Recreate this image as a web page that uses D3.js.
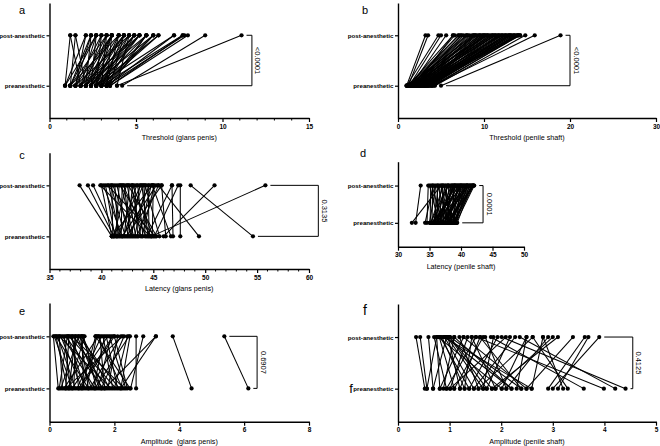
<!DOCTYPE html>
<html>
<head>
<meta charset="utf-8">
<script src="https://cdn.jsdelivr.net/npm/d3@7"></script>
<style>
  body { margin: 0; background: #fff; }
  text { font-family: "Liberation Sans", Arial, sans-serif; fill: #000; }
</style>
</head>
<body>
<svg id="chart" width="660" height="446"></svg>
<script>
'use strict';

const rows = ["post-anesthetic", "preanesthetic"];

// a - threshold, glans penis
const threshGlansPre = [0.9,0.9,0.9,1.2,1.2,1.2,1.2,1.5,1.5,1.5,1.5,1.8,1.8,1.8,1.8,1.8,2.1,2.1,2.1,2.1,2.1,2.1,2.4,2.4,2.4,2.4,2.4,2.4,2.7,2.7,2.7,2.7,2.7,2.7,3.0,3.0,3.0,3.0,3.0,3.0,3.3,3.3,3.3,3.3,3.3,3.5,3.5,3.5,3.5,3.9,3.9,4.2,3.3,2.7,2.1,1.2,1.8,2.1,2.4,2.7,3.0,3.3,1.5,2.4];
const threshGlansPost = [1.2,2.1,2.7,1.5,2.4,3.3,4.0,2.1,3.0,3.6,4.6,1.2,2.7,3.3,4.3,5.2,2.4,3.0,3.6,4.0,4.9,5.6,2.7,3.3,4.3,4.6,5.2,6.0,3.0,3.6,4.0,4.9,5.6,7.2,3.3,4.3,4.6,5.2,6.3,7.7,3.6,4.0,4.9,6.0,7.8,4.3,5.6,7.7,8.0,4.6,11.1,9.0,7.2,6.3,1.5,2.7,3.6,4.3,4.9,5.2,6.0,5.6,2.4,3.6];

// b - threshold, penile shaft
const threshShaftPre = [1.0,1.2,1.0,1.3,1.5,1.2,1.6,1.1,1.4,1.8,1.0,1.7,2.0,1.3,2.2,1.5,1.9,2.4,1.1,2.1,2.6,1.6,2.3,2.8,1.8,2.5,3.0,2.0,2.7,3.2,2.2,2.9,3.4,2.4,3.1,3.6,2.6,3.3,3.8,2.8,3.5,4.0,4.3,4.0,5.0,1.4,1.9,2.1,3.0,3.7,3.9,4.2,1.7,2.5,3.2,1.5,2.0,3.5,1.1,1.3,1.6,2.0,2.3,2.7,3.1,3.4];
const threshShaftPost = [3.2,3.5,4.7,5.0,5.6,6.4,6.6,7.1,7.4,7.6,7.9,8.1,8.3,8.6,8.8,9.0,9.2,9.4,9.6,9.8,10.0,10.2,10.4,10.6,10.8,11.0,11.2,11.4,11.6,11.8,12.0,12.2,12.4,12.6,12.8,13.0,13.2,13.4,13.6,13.8,14.0,14.2,14.8,15.9,18.9,8.0,9.0,7.3,10.1,12.5,13.1,14.0,11.0,12.9,9.5,7.0,6.4,11.7,8.8,10.4,9.9,11.3,12.1,13.5,13.9,14.2];

// c - latency, glans penis
const latGlansPre = [41.0,41.2,41.5,41.0,41.3,41.8,41.1,41.6,42.0,41.4,42.3,41.9,42.6,41.2,42.8,42.2,43.0,42.5,43.3,41.7,43.5,42.9,43.8,42.1,44.0,43.2,44.3,42.7,44.5,43.6,44.8,43.9,44.2,45.0,44.6,43.4,45.3,44.9,45.6,46.2,46.7,46.9,47.6,49.4,54.6,44.8,46.0,45.1,44.4,41.0,42.4,45.2,44.7,43.1,41.5,42.0];
const latGlansPost = [37.9,38.7,39.2,40.0,40.4,40.7,41.0,41.3,40.2,41.7,40.9,42.0,41.5,42.4,42.2,42.7,41.1,43.0,42.5,43.4,43.2,43.7,42.9,44.0,43.5,44.3,42.1,44.6,43.9,44.8,41.8,45.1,44.1,43.0,44.5,45.5,42.6,45.0,44.2,45.8,44.9,46.8,47.6,45.5,48.6,55.8,50.9,47.4,46.8,44.9,45.8,40.6,39.9,41.9,43.8,45.3];

// d - latency, penile shaft
const latShaftPre = [32.2,32.8,34.3,34.6,35.1,35.0,35.2,35.4,35.5,35.7,35.8,35.9,36.0,36.1,36.2,36.3,36.4,36.5,36.6,36.7,36.8,36.9,37.0,37.1,37.2,37.3,37.4,37.5,37.6,37.7,37.8,37.9,38.0,38.1,38.2,38.3,38.4,38.5,38.6,38.7,38.8,38.9,39.0,39.1,39.2,39.3,39.4,35.3,36.0,36.5,37.0,38.0,38.5,39.0,35.6,37.3,38.1,35.2,35.8,36.3,36.8,37.4,37.9,38.3,38.8,39.2,36.1,37.6,38.6];
const latShaftPost = [36.8,33.6,35.6,34.8,35.2,36.0,37.2,35.5,38.0,36.4,39.0,37.0,35.8,38.5,37.5,40.0,36.2,38.8,39.5,37.8,36.6,40.5,38.2,39.2,37.1,41.0,38.6,39.8,36.9,40.2,38.4,41.5,39.6,37.6,40.8,39.0,41.2,38.0,40.4,41.7,39.4,42.0,40.6,41.4,42.1,39.9,41.6,40.3,41.0,35.0,35.4,36.3,37.3,38.7,39.3,40.0,41.9,37.9,39.7,38.9,41.3,40.7,42.0,40.1,41.8,41.0,39.1,41.9,40.9];

// e - amplitude, glans penis
const ampGlansPre = [0.27,0.35,0.4,0.45,0.5,0.55,0.6,0.65,0.7,0.75,0.8,0.85,0.9,0.95,1.0,1.05,1.1,1.15,1.2,1.25,1.3,1.35,1.4,1.45,1.5,1.55,1.6,1.65,1.7,1.75,1.8,1.85,1.9,1.95,2.0,2.05,2.1,2.15,2.2,2.25,2.3,2.35,2.4,2.48,2.67,2.2,1.7,2.5,4.38,6.13,0.3,0.5,0.7,1.0,1.4,0.9,0.6,1.2,1.6];
const ampGlansPost = [0.12,0.9,0.3,1.5,0.6,0.2,1.08,0.45,1.8,0.8,0.25,1.6,0.7,2.0,0.35,1.0,0.55,1.45,0.95,2.2,0.65,1.7,0.4,1.05,1.9,0.85,2.3,0.5,1.55,0.75,2.1,1.0,0.3,1.65,2.4,0.6,1.75,0.9,2.48,1.5,0.7,1.85,2.0,1.42,2.67,3.28,3.28,2.89,3.8,5.39,0.55,2.25,0.15,1.42,2.45,1.95,0.8,0.2,1.0];

// f - amplitude, penile shaft
const ampShaftPre = [0.52,0.56,0.68,0.81,0.88,0.94,1.01,1.09,1.2,1.29,1.38,1.47,1.56,1.65,1.72,1.82,1.89,2.01,2.1,2.2,2.3,2.39,2.49,2.59,2.91,3.0,3.1,3.2,3.29,3.6,3.99,4.21,4.41,1.01,1.2,1.47,1.65,1.89,2.1,0.56,0.94,1.38,1.56,1.82,2.2,2.49,1.09,0.81,2.01,1.29,2.39,1.72,0.68,2.59];
const ampShaftPost = [0.35,0.43,0.59,0.75,1.09,0.70,1.35,0.80,1.59,0.85,1.93,0.90,1.19,0.95,2.17,1.00,1.43,0.78,1.69,0.92,2.49,1.01,1.27,0.88,3.62,3.9,3.69,2.81,2.61,1.8,1.51,2.36,2.01,2.09,0.97,2.27,1.85,3.0,2.91,0.75,1.51,0.82,2.61,3.1,1.09,3.39,1.65,1.27,2.49,1.43,1.59,0.99,0.94,2.81];

const panels = [
  { letter: "a", pre: threshGlansPre, post: threshGlansPost, domain: [0, 15], ticks: [0, 5, 10, 15], minor: 1,
    title: "Threshold (glans penis)", p: "<0.0001", bracket: 11.7,
    xr: [49.5, 309], yr: [3, 118], lx: 22, ly: 14 },
  { letter: "b", pre: threshShaftPre, post: threshShaftPost, domain: [0, 30], ticks: [0, 10, 20, 30], minor: 0,
    title: "Threshold (penile shaft)", p: "<0.0001", bracket: 20,
    xr: [398, 656], yr: [3, 118], lx: 365, ly: 14 },
  { letter: "c", pre: latGlansPre, post: latGlansPost, domain: [35, 60], ticks: [35, 40, 45, 50, 55, 60], minor: 1,
    title: "Latency (glans penis)", p: "0.3135", bracket: 60.9,
    xr: [49.5, 309], yr: [152.7, 269], lx: 22, ly: 159 },
  { letter: "d", pre: latShaftPre, post: latShaftPost, domain: [30, 50], ticks: [30, 35, 40, 45, 50], minor: 0,
    title: "Latency (penile shaft)", p: "0.0001", bracket: 43.5,
    xr: [398, 524], yr: [161.7, 246.7], lx: 363, ly: 157 },
  { letter: "e", pre: ampGlansPre, post: ampGlansPost, domain: [0, 8], ticks: [0, 2, 4, 6, 8], minor: 0,
    title: "Amplitude  (glans penis)", p: "0.6907", bracket: 6.4,
    xr: [49.5, 309], yr: [303, 421.7], lx: 22, ly: 315 },
  { letter: "f", pre: ampShaftPre, post: ampShaftPost, domain: [0, 5], ticks: [0, 1, 2, 3, 4, 5], minor: 0,
    title: "Amplitude (penile shaft)", p: "0.4125", bracket: 4.55,
    xr: [398, 656], yr: [304, 421.7], lx: 365, ly: 315, big: true }
];

const svg = d3.select("#chart");

function drawPanel(cfg) {
  const g = svg.append("g");

  const x = d3.scaleLinear().domain(cfg.domain).range(cfg.xr);
  const y = d3.scalePoint().domain(rows).range(cfg.yr).padding(0.64);

  const pairs = cfg.pre.map((v, i) => ({ pre: v, post: cfg.post[i] }));

  // paired lines
  g.append("g")
    .selectAll("line")
    .data(pairs)
    .join("line")
    .attr("x1", d => x(d.pre))
    .attr("y1", y("preanesthetic"))
    .attr("x2", d => x(d.post))
    .attr("y2", y("post-anesthetic"))
    .attr("stroke", "#000")
    .attr("stroke-width", 1.05);

  // dots
  const dots = g.append("g");
  dots.selectAll("circle.pre")
    .data(cfg.pre)
    .join("circle")
    .attr("class", "pre")
    .attr("cx", d => x(d))
    .attr("cy", y("preanesthetic"))
    .attr("r", 2.1)
    .attr("fill", "#000");
  dots.selectAll("circle.post")
    .data(cfg.post)
    .join("circle")
    .attr("class", "post")
    .attr("cx", d => x(d))
    .attr("cy", y("post-anesthetic"))
    .attr("r", 2.1)
    .attr("fill", "#000");

  // significance bracket
  const bx = x(cfg.bracket);
  const yPost = y("post-anesthetic");
  const yPre = y("preanesthetic");
  g.append("path")
    .attr("d", `M${x(d3.max(cfg.post)) + 5},${yPost}H${bx}V${yPre}H${x(d3.max(cfg.pre)) + 5}`)
    .attr("fill", "none")
    .attr("stroke", "#000")
    .attr("stroke-width", 1);

  g.append("text")
    .attr("transform", `translate(${bx + 6},${(yPost + yPre) / 2}) rotate(90)`)
    .attr("text-anchor", "middle")
    .attr("dominant-baseline", "central")
    .attr("font-size", 7.5)
    .text(cfg.p);

  // x axis
  const xAxis = g.append("g")
    .attr("transform", `translate(0,${cfg.yr[1]})`)
    .call(d3.axisBottom(x).tickValues(cfg.ticks).tickSize(4).tickSizeOuter(0).tickPadding(2).tickFormat(d3.format("d")));
  xAxis.select(".domain").attr("stroke-width", 1.4);
  xAxis.selectAll(".tick line").attr("stroke-width", 1.2);
  xAxis.selectAll("text").attr("font-size", 6.5).attr("font-weight", "bold")
    .attr("font-family", "Liberation Sans, Arial, sans-serif");

  if (cfg.minor) {
    const minorTicks = d3.range(cfg.domain[0], cfg.domain[1] + 0.001, cfg.minor)
      .filter(v => cfg.ticks.indexOf(v) < 0);
    g.append("g")
      .selectAll("line")
      .data(minorTicks)
      .join("line")
      .attr("x1", d => x(d))
      .attr("x2", d => x(d))
      .attr("y1", cfg.yr[1])
      .attr("y2", cfg.yr[1] + 2.5)
      .attr("stroke", "#000")
      .attr("stroke-width", 1);
  }

  // y axis
  const yAxis = g.append("g")
    .attr("transform", `translate(${cfg.xr[0]},0)`)
    .call(d3.axisLeft(y).tickSize(3).tickSizeOuter(0).tickPadding(1.5));
  yAxis.select(".domain").attr("stroke-width", 1.4);
  yAxis.selectAll(".tick line").attr("stroke-width", 1.2);
  yAxis.selectAll("text").attr("font-size", 6.2).attr("font-weight", "bold")
    .attr("font-family", "Liberation Sans, Arial, sans-serif");

  // axis title
  g.append("text")
    .attr("x", (cfg.xr[0] + cfg.xr[1]) / 2)
    .attr("y", cfg.yr[1] + 22)
    .attr("text-anchor", "middle")
    .attr("font-size", 7.2)
    .style("white-space", "pre")
    .text(cfg.title);

  // panel letter
  g.append("text")
    .attr("x", cfg.lx)
    .attr("y", cfg.ly)
    .attr("text-anchor", "middle")
    .attr("font-size", cfg.big ? 14 : 11)
    .text(cfg.letter);
}

panels.forEach(drawPanel);

// stray "f" glyph sitting over the preanesthetic label of panel f
svg.append("text")
  .attr("x", 351)
  .attr("y", 393)
  .attr("text-anchor", "middle")
  .attr("font-size", 13)
  .text("f");
</script>
</body>
</html>
